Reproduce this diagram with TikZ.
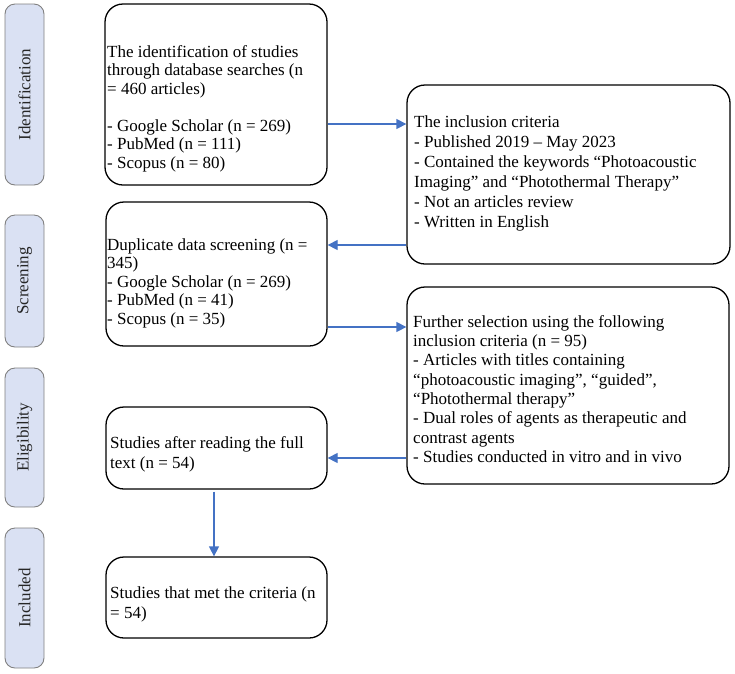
\documentclass[tikz,border=0pt]{standalone}
\usepackage{fontspec}
\setmainfont{Liberation Serif}
\usetikzlibrary{arrows.meta}
\definecolor{sidefill}{RGB}{218,225,243}
\definecolor{sidedraw}{RGB}{128,128,128}
\definecolor{arrowblue}{RGB}{68,114,196}
\begin{document}
\begin{tikzpicture}[x=1pt,y=-1pt,
  mainbox/.style={draw=black, fill=white, rounded corners=18pt, line width=1.3pt, inner sep=0pt},
  sidebox/.style={draw=sidedraw, fill=sidefill, rounded corners=10pt, line width=0.9pt, inner sep=0pt, rotate=90, text=black!85, font=\fontsize{17}{20}\selectfont},
  txtl/.style={anchor=north west, inner sep=0pt, align=left, font=\fontsize{17}{18.5}\selectfont},
  txtr/.style={anchor=north west, inner sep=0pt, align=left, font=\fontsize{17}{20}\selectfont},
  arr/.style={draw=arrowblue, line width=1.3pt, -{Triangle[length=10pt,width=10pt]}}
]
\useasboundingbox (0,0) rectangle (735,673);

% side labels
\node[sidebox, minimum width=181pt, minimum height=39pt] (s1) at (24.5,94.5) {Identification};
\node[sidebox, minimum width=132pt, minimum height=39pt] (s2) at (24.5,281) {Screening};
\node[sidebox, minimum width=139pt, minimum height=39pt] (s3) at (24.5,437.5) {Eligibility};
\node[sidebox, minimum width=140pt, minimum height=39pt] (s4) at (24.5,598) {Included};

% main boxes
\node[mainbox, minimum width=222pt, minimum height=181pt] (b1) at (216,94.5) {};
\node[mainbox, minimum width=323pt, minimum height=179pt] (b2) at (568.5,174.5) {};
\node[mainbox, minimum width=221pt, minimum height=144pt] (b3) at (216.5,274) {};
\node[mainbox, minimum width=322pt, minimum height=197pt] (b4) at (568,385.5) {};
\node[mainbox, minimum width=221pt, minimum height=82pt] (b5) at (216.5,448) {};
\node[mainbox, minimum width=221pt, minimum height=81pt] (b6) at (216.5,597.5) {};

% texts
\node[txtl] (t1) at (107,44) {\strut The identification of studies\\through database searches (n\\= 460 articles)\\[18.5pt]- Google Scholar (n = 269)\\- PubMed (n = 111)\\- Scopus (n = 80)};
\node[txtr] (t2) at (414,113) {\strut The inclusion criteria\\- Published 2019 – May 2023\\- Contained the keywords “Photoacoustic\\Imaging” and “Photothermal Therapy”\\- Not an articles review\\- Written in English};
\node[txtl] (t3) at (107,237) {\strut Duplicate data screening (n =\\345)\\- Google Scholar (n = 269)\\- PubMed (n = 41)\\- Scopus (n = 35)};
\node[txtr, font=\fontsize{17}{19.3}\selectfont] (t4) at (413,313.5) {\strut Further selection using the following\\inclusion criteria (n = 95)\\- Articles with titles containing\\“photoacoustic imaging”, “guided”,\\“Photothermal therapy”\\- Dual roles of agents as therapeutic and\\contrast agents\\- Studies conducted in vitro and in vivo};
\node[txtr] (t5) at (110,434) {\strut Studies after reading the full\\text (n = 54)};
\node[txtr] (t6) at (110,584) {\strut Studies that met the criteria (n\\= 54)};

% connectors
\coordinate (y12) at (0,124);
\coordinate (y23) at (0,245);
\coordinate (y34) at (0,327);
\coordinate (y45) at (0,458);
\coordinate (x56) at (214,0);
\draw[arr] (b1.east |- y12) -- (b2.west |- y12);
\draw[arr] (b2.west |- y23) -- (b3.east |- y23);
\draw[arr] (b3.east |- y34) -- (b4.west |- y34);
\draw[arr] (b4.west |- y45) -- (b5.east |- y45);
\draw[arr] ([yshift=-2pt]b5.south -| x56) -- (b6.north -| x56);
\end{tikzpicture}
\end{document}
